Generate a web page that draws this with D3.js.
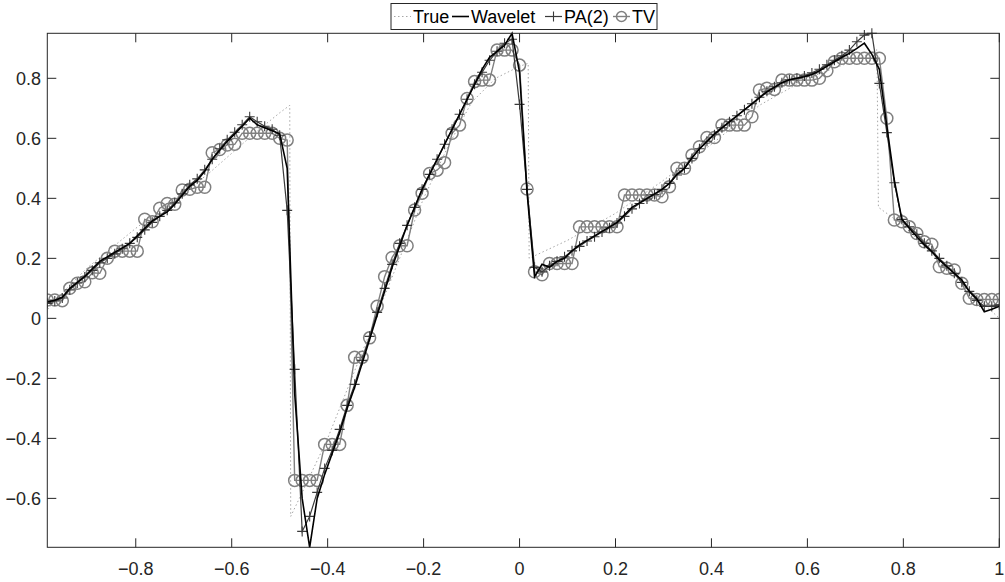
<!DOCTYPE html>
<html>
<head>
<meta charset="utf-8">
<script src="https://cdn.jsdelivr.net/npm/d3@7"></script>
<style>
  html, body { margin: 0; padding: 0; background: #fff; }
  svg { display: block; font-family: "Liberation Sans", Arial, Helvetica, sans-serif; }
</style>
</head>
<body>
<svg id="chart" width="1005" height="582"></svg>
<script>
// Sample grid: 128 points on (-1, 1]
const nSamples = 128;
const sampleX = d3.range(1, nSamples + 1).map(i => -1 + 2 * i / nSamples);

// Reference signal (polyline vertices)
const trueX = [-1, -0.95, -0.9, -0.85, -0.8, -0.75, -0.7, -0.65, -0.6, -0.55, -0.5, -0.479,
  -0.477, -0.45, -0.4, -0.35, -0.3, -0.25, -0.2, -0.15, -0.1, -0.05, 0, 0.018,
  0.02, 0.1, 0.2, 0.3, 0.4, 0.5, 0.6, 0.7, 0.745,
  0.748, 0.8, 0.85, 0.9, 0.95, 1];
const trueY = [0, 0.09, 0.17, 0.235, 0.30, 0.36, 0.42, 0.48, 0.55, 0.62, 0.685, 0.71,
  -0.66, -0.57, -0.40, -0.2, 0.0, 0.2, 0.40, 0.57, 0.72, 0.80, 0.84, 0.85,
  0.2, 0.26, 0.35, 0.46, 0.58, 0.71, 0.8, 0.86, 0.895,
  0.37, 0.31, 0.23, 0.155, 0.075, 0.0];

// Wavelet estimate
const waveletY = [
  0.055, 0.06, 0.07, 0.10, 0.12, 0.14, 0.165, 0.19, 0.205, 0.22, 0.235, 0.25, 0.275, 0.30, 0.325, 0.34,
  0.355, 0.38, 0.41, 0.44, 0.46, 0.49, 0.53, 0.56, 0.59, 0.615, 0.64, 0.667, 0.645, 0.635, 0.625, 0.615, 0.50,
  -0.25, -0.60, -0.763, -0.60, -0.52, -0.45, -0.38, -0.30, -0.23, -0.15, -0.07, 0.01, 0.09, 0.17, 0.24, 0.31,
  0.37, 0.43, 0.48, 0.53, 0.58, 0.63, 0.68, 0.73, 0.78, 0.83, 0.87, 0.89, 0.91, 0.95, 0.82, 0.42,
  0.139, 0.18, 0.17, 0.19, 0.2, 0.225, 0.245, 0.26, 0.275, 0.29, 0.305, 0.32, 0.345, 0.37, 0.385, 0.40,
  0.415, 0.43, 0.45, 0.48, 0.50, 0.535, 0.565, 0.59, 0.615, 0.635, 0.655, 0.675, 0.695, 0.715, 0.735, 0.755,
  0.77, 0.785, 0.795, 0.80, 0.805, 0.813, 0.825, 0.84, 0.855, 0.87, 0.883, 0.9, 0.917, 0.88, 0.83,
  0.64, 0.46, 0.33, 0.30, 0.272, 0.245, 0.222, 0.195, 0.172, 0.15, 0.128, 0.09, 0.065, 0.022, 0.03, 0.04
];

// Polynomial approximation, order 2
const pa2Y = [
  0.05, 0.058, 0.068, 0.095, 0.118, 0.138, 0.16, 0.185, 0.2, 0.215, 0.232, 0.25, 0.27, 0.295, 0.32, 0.34,
  0.36, 0.385, 0.415, 0.445, 0.465, 0.495, 0.53, 0.565, 0.595, 0.62, 0.645, 0.672, 0.655, 0.64, 0.63, 0.61, 0.36,
  -0.17, -0.71, -0.66, -0.58, -0.50, -0.44, -0.37, -0.29, -0.22, -0.14, -0.06, 0.02, 0.10, 0.18, 0.25, 0.31,
  0.37, 0.43, 0.48, 0.53, 0.58, 0.63, 0.68, 0.73, 0.78, 0.82, 0.86, 0.89, 0.917, 0.93, 0.713, 0.43,
  0.17, 0.155, 0.175, 0.19, 0.205, 0.225, 0.24, 0.258, 0.272, 0.288, 0.302, 0.318, 0.34, 0.365, 0.383, 0.398,
  0.413, 0.43, 0.45, 0.478, 0.50, 0.533, 0.565, 0.59, 0.612, 0.635, 0.655, 0.675, 0.695, 0.715, 0.737, 0.757,
  0.772, 0.785, 0.795, 0.80, 0.808, 0.818, 0.83, 0.845, 0.86, 0.875, 0.894, 0.922, 0.944, 0.95, 0.783,
  0.619, 0.452, 0.33, 0.305, 0.28, 0.25, 0.225, 0.2, 0.175, 0.15, 0.12, 0.09, 0.06, 0.04, 0.04, 0.045
];

// Total-variation estimate
const tvY = [
  0.061, 0.061, 0.059, 0.100, 0.117, 0.122, 0.152, 0.150, 0.200, 0.224, 0.224, 0.224, 0.224, 0.330, 0.322, 0.367,
  0.383, 0.380, 0.428, 0.430, 0.437, 0.437, 0.552, 0.563, 0.578, 0.580, 0.617, 0.617, 0.617, 0.617, 0.617, 0.600, 0.594,
  -0.54, -0.54, -0.54, -0.54, -0.42, -0.42, -0.42, -0.29, -0.13, -0.13, -0.065, 0.04, 0.139, 0.203, 0.242, 0.242,
  0.361, 0.417, 0.483, 0.494, 0.519, 0.617, 0.644, 0.733, 0.789, 0.794, 0.794, 0.894, 0.894, 0.894, 0.844, 0.431,
  0.155, 0.145, 0.183, 0.183, 0.183, 0.183, 0.305, 0.305, 0.305, 0.305, 0.305, 0.305, 0.411, 0.411, 0.411, 0.411,
  0.411, 0.405, 0.439, 0.5, 0.5, 0.544, 0.572, 0.603, 0.603, 0.644, 0.644, 0.644, 0.644, 0.672, 0.761, 0.767,
  0.763, 0.794, 0.794, 0.794, 0.794, 0.794, 0.8, 0.825, 0.855, 0.867, 0.867, 0.867, 0.867, 0.867, 0.867,
  0.667, 0.328, 0.322, 0.305, 0.283, 0.255, 0.247, 0.172, 0.167, 0.161, 0.117, 0.067, 0.063, 0.063, 0.063, 0.063
];

const xTicks = [-0.8, -0.6, -0.4, -0.2, 0, 0.2, 0.4, 0.6, 0.8, 1];
const yTicks = [-0.6, -0.4, -0.2, 0, 0.2, 0.4, 0.6, 0.8];
const xLimits = [-0.984375, 1];
const yLimits = [-0.763, 0.95];

const legendNames = ["True", "Wavelet", "PA(2)", "TV"];

// ---- layout ----
const plot = { left: 47.3, right: 999.3, top: 33.3, bottom: 547.3 };
const axisColor = "#262626";
const fontSize = 18;

const svg = d3.select("#chart");
const x = d3.scaleLinear().domain(xLimits).range([plot.left, plot.right]);
const y = d3.scaleLinear().domain(yLimits).range([plot.bottom, plot.top]);

svg.append("defs").append("clipPath").attr("id", "plot-clip")
  .append("rect")
  .attr("x", plot.left).attr("y", plot.top - 8)
  .attr("width", plot.right - plot.left).attr("height", plot.bottom - plot.top + 16);

const g = svg.append("g").attr("clip-path", "url(#plot-clip)");

const line = d3.line().x(d => x(d[0])).y(d => y(d[1]));

const truePts = trueX.map((v, i) => [v, trueY[i]]);
const wavPts = sampleX.map((v, i) => [v, waveletY[i]]);
const paPts = sampleX.map((v, i) => [v, pa2Y[i]]);
const tvPts = sampleX.map((v, i) => [v, tvY[i]]);

const styles = {
  truth: { stroke: "#a6a6a6", width: 1, dash: "1.5,2.5" },
  wav: { stroke: "#000000", width: 1.6 },
  pa: { stroke: "#3a3a3a", width: 1.2 },
  tv: { stroke: "#808080", width: 1.4 }
};

// True signal
g.append("path").datum(truePts).attr("d", line)
  .attr("fill", "none").attr("stroke", styles.truth.stroke)
  .attr("stroke-width", styles.truth.width).attr("stroke-dasharray", styles.truth.dash);

// TV line and circle markers
g.append("path").datum(tvPts).attr("d", line)
  .attr("fill", "none").attr("stroke", styles.tv.stroke).attr("stroke-width", styles.tv.width);
g.append("g").selectAll("circle").data(tvPts).join("circle")
  .attr("cx", d => x(d[0])).attr("cy", d => y(d[1])).attr("r", 6)
  .attr("fill", "none").attr("stroke", styles.tv.stroke).attr("stroke-width", 1.5);

// PA(2) line and plus markers
g.append("path").datum(paPts).attr("d", line)
  .attr("fill", "none").attr("stroke", styles.pa.stroke).attr("stroke-width", styles.pa.width);
const plus = 5;
g.append("g").selectAll("path").data(paPts).join("path")
  .attr("d", d => {
    const cx = x(d[0]), cy = y(d[1]);
    return `M${cx - plus},${cy}H${cx + plus}M${cx},${cy - plus}V${cy + plus}`;
  })
  .attr("fill", "none").attr("stroke", styles.pa.stroke).attr("stroke-width", 1.1);

// Wavelet line
g.append("path").datum(wavPts).attr("d", line)
  .attr("fill", "none").attr("stroke", styles.wav.stroke).attr("stroke-width", styles.wav.width);

// ---- axes (box with inward ticks on all sides) ----
const tickLen = 9;
const axes = svg.append("g").attr("stroke", axisColor).attr("stroke-width", 1).attr("fill", "none");
axes.append("rect")
  .attr("x", plot.left).attr("y", plot.top)
  .attr("width", plot.right - plot.left).attr("height", plot.bottom - plot.top);

xTicks.forEach(t => {
  const px = x(t);
  axes.append("line").attr("x1", px).attr("x2", px).attr("y1", plot.bottom).attr("y2", plot.bottom - tickLen);
  axes.append("line").attr("x1", px).attr("x2", px).attr("y1", plot.top).attr("y2", plot.top + tickLen);
});
yTicks.forEach(t => {
  const py = y(t);
  axes.append("line").attr("y1", py).attr("y2", py).attr("x1", plot.left).attr("x2", plot.left + tickLen);
  axes.append("line").attr("y1", py).attr("y2", py).attr("x1", plot.right).attr("x2", plot.right - tickLen);
});

// Tick labels use a typographic minus sign
const fmt = v => (v === 0 ? "0" : String(v).replace("-", "\u2212"));

svg.append("g").selectAll("text").data(xTicks).join("text")
  .attr("x", d => x(d)).attr("y", 575)
  .attr("text-anchor", "middle").attr("font-size", fontSize).attr("fill", axisColor)
  .text(fmt);

svg.append("g").selectAll("text").data(yTicks).join("text")
  .attr("x", 41).attr("y", d => y(d)).attr("dy", "0.36em")
  .attr("text-anchor", "end").attr("font-size", fontSize).attr("fill", axisColor)
  .text(fmt);

// ---- legend ----
const legend = svg.append("g");
const legBox = { x: 391, y: 3.5, w: 266, h: 26 };
legend.append("rect")
  .attr("x", legBox.x).attr("y", legBox.y).attr("width", legBox.w).attr("height", legBox.h)
  .attr("fill", "#fff").attr("stroke", axisColor).attr("stroke-width", 1);

const legY = legBox.y + legBox.h / 2;
const sampleStart = [394, 452, 545, 613];
const sampleLen = 17;
legendNames.forEach((name, k) => {
  const x0 = sampleStart[k], x1 = x0 + sampleLen, xm = (x0 + x1) / 2;
  const st = [styles.truth, styles.wav, styles.pa, styles.tv][k];
  const ln = legend.append("line").attr("x1", x0).attr("x2", x1).attr("y1", legY).attr("y2", legY)
    .attr("stroke", st.stroke).attr("stroke-width", st.width);
  if (st.dash) ln.attr("stroke-dasharray", st.dash);
  if (k === 2) {
    legend.append("path").attr("d", `M${xm - plus},${legY}H${xm + plus}M${xm},${legY - plus}V${legY + plus}`)
      .attr("stroke", st.stroke).attr("stroke-width", 1.1).attr("fill", "none");
  }
  if (k === 3) {
    legend.append("circle").attr("cx", xm).attr("cy", legY).attr("r", 5)
      .attr("fill", "none").attr("stroke", st.stroke).attr("stroke-width", 1.5);
  }
  legend.append("text").attr("x", x1 + 2).attr("y", legY).attr("dy", "0.36em")
    .attr("font-size", fontSize).attr("fill", "#000").text(name);
});
</script>
</body>
</html>
